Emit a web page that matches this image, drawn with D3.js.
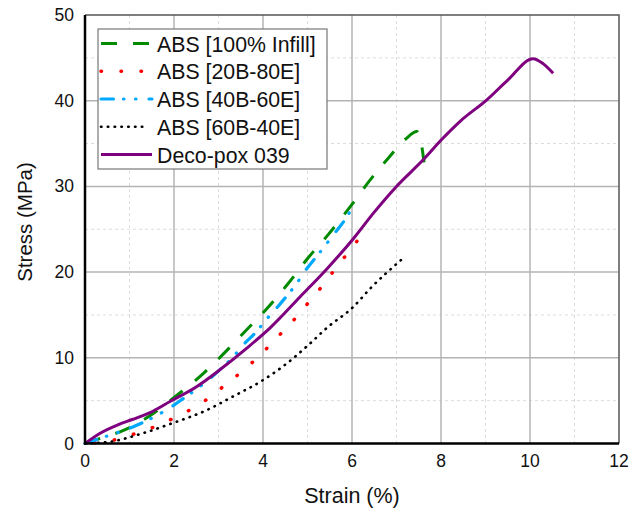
<!DOCTYPE html>
<html>
<head>
<meta charset="utf-8">
<script src="https://cdn.jsdelivr.net/npm/d3@7"></script>
<style>
  body { margin: 0; background: #fff; }
  svg { font-family: "Liberation Sans", Arial, sans-serif; }
</style>
</head>
<body>
<svg id="chart" width="643" height="509"></svg>
<script>
// stress-strain curves, [strain %, stress MPa]
const abs100 = [[0,0],[0.4,0.7],[0.85,1.5],[1.45,3.2],[2.06,5.6],[2.58,7.8],[3.1,10.4],[3.6,13.1],[4.08,15.7],[4.57,18.7],[5.02,21.7],[5.47,24.4],[6,27.9],[6.4,30.7],[6.8,33.2],[7.2,35.5],[7.46,36.4],[7.55,35.2],[7.62,32.8]];
const abs20 = [[0,0],[0.52,0.25],[0.97,0.9],[1.39,1.6],[1.76,2.4],[2.13,3.3],[2.52,4.4],[2.88,5.7],[3.21,7.1],[3.55,8.5],[3.87,10],[4.16,11.5],[4.45,13.1],[4.76,14.8],[5.03,16.5],[5.32,18.3],[5.57,20],[5.84,21.8],[6.11,23.6]];
const abs40 = [[0,0],[0.34,0.6],[0.8,1.4],[1.24,2.3],[1.62,3.3],[1.92,4.2],[2.25,5.4],[2.55,6.5],[3.07,8.8],[3.33,10.1],[3.52,11.3],[3.86,13.1],[4.08,14.5],[4.27,15.6],[4.5,17],[4.76,18.7],[4.94,20.1],[5.2,21.8],[5.62,24.6],[5.89,26.5],[5.97,27.2]];
const abs60 = [[0,0],[0.56,0.2],[1.3,1.2],[1.98,2.4],[2.74,3.9],[3.33,5.5],[4,7.4],[4.5,9.2],[5,11.4],[5.46,13.6],[6,15.8],[6.45,18.3],[7.1,21.4]];
const deco = [[0,0],[0.34,1.2],[0.75,2.2],[1.06,2.8],[1.46,3.6],[1.91,4.9],[2.47,6.5],[3.03,8.6],[3.63,11.1],[4.16,13.5],[4.83,17.1],[5.44,20.4],[6.03,23.9],[6.5,27],[7,30],[7.6,33.1],[8.02,35.5],[8.43,37.6],[9.03,40.1],[9.5,42.4],[10.07,44.9],[10.3,44.3],[10.52,43.2]];

const seriesNames = ["ABS [100% Infill]", "ABS [20B-80E]", "ABS [40B-60E]", "ABS [60B-40E]", "Deco-pox 039"];
const xTicks = [0, 2, 4, 6, 8, 10, 12];
const yTicks = [0, 10, 20, 30, 40, 50];
const xMinor = [1, 3, 5, 7, 9, 11];
const yMinor = [5, 15, 25, 35, 45];

const styles = [
  { color: "#008a00", dash: "16,16", cap: "butt", width: 3, period: 0 },
  { color: "#ff0000", dash: "0.5,19.5", cap: "round", width: 3.5, period: 20 },
  { color: "#00a8ff", dash: "12.5,10,0.5,11.5,0.5,13", cap: "round", width: 3.2, period: 0 },
  { color: "#000000", dash: "0.5,6.3", cap: "round", width: 2.6, period: 6.8 },
  { color: "#7f007f", dash: null, cap: "butt", width: 3, period: 0 }
];
const allData = [abs100, abs20, abs40, abs60, deco];

const svg = d3.select("#chart");
const mLeft = 85, mRight = 619, mTop = 15, mBottom = 443.5;

const x = d3.scaleLinear().domain([0, 12]).range([mLeft, mRight]);
const y = d3.scaleLinear().domain([0, 50]).range([mBottom, mTop]);

// minor grid
const grid = svg.append("g");
grid.selectAll(".mx").data(xMinor).enter().append("line")
  .attr("x1", d => x(d)).attr("x2", d => x(d)).attr("y1", mTop).attr("y2", mBottom)
  .attr("stroke", "#dcdcdc").attr("stroke-dasharray", "3,3");
grid.selectAll(".my").data(yMinor).enter().append("line")
  .attr("x1", mLeft).attr("x2", mRight).attr("y1", d => y(d)).attr("y2", d => y(d))
  .attr("stroke", "#dcdcdc").attr("stroke-dasharray", "3,3");
// major grid
grid.selectAll(".Mx").data(xTicks.slice(1, -1)).enter().append("line")
  .attr("x1", d => x(d)).attr("x2", d => x(d)).attr("y1", mTop).attr("y2", mBottom)
  .attr("stroke", "#b4b4b4").attr("stroke-width", 1.5);
grid.selectAll(".My").data(yTicks.slice(1, -1)).enter().append("line")
  .attr("x1", mLeft).attr("x2", mRight).attr("y1", d => y(d)).attr("y2", d => y(d))
  .attr("stroke", "#b4b4b4").attr("stroke-width", 1.5);

// frame top/right
svg.append("path")
  .attr("d", `M${mLeft},${mTop}H${mRight}V${mBottom}`)
  .attr("fill", "none").attr("stroke", "#555").attr("stroke-width", 1.5);

// curves
const line = d3.line().x(d => x(d[0])).y(d => y(d[1])).curve(d3.curveMonotoneX);
svg.append("g").selectAll("path").data(allData).enter().append("path")
  .attr("d", d => line(d))
  .attr("fill", "none")
  .attr("stroke", (d, i) => styles[i].color)
  .attr("stroke-width", (d, i) => styles[i].width)
  .attr("stroke-linecap", (d, i) => styles[i].cap)
  .attr("stroke-linejoin", "round")
  .attr("stroke-dasharray", (d, i) => styles[i].dash)
  .each(function(d, i) {
    // make dotted lines end on a dot
    const p = styles[i].period;
    if (p) {
      const len = this.getTotalLength();
      d3.select(this).attr("stroke-dashoffset", p - (len % p) + 0.5);
    }
  });

// axes lines
svg.append("path")
  .attr("d", `M${mLeft},${mTop}V${mBottom}H${mRight}`)
  .attr("fill", "none").attr("stroke", "#000").attr("stroke-width", 2.5);

// tick labels
svg.append("g").selectAll("text").data(xTicks).enter().append("text")
  .attr("x", d => x(d)).attr("y", 467)
  .attr("text-anchor", "middle").attr("font-size", 17.5).attr("fill", "#111")
  .text(d => d);
svg.append("g").selectAll("text").data(yTicks).enter().append("text")
  .attr("x", 74).attr("y", d => y(d) + 6)
  .attr("text-anchor", "end").attr("font-size", 17.5).attr("fill", "#111")
  .text(d => d);

// axis titles
svg.append("text").attr("x", (mLeft + mRight) / 2).attr("y", 503)
  .attr("text-anchor", "middle").attr("font-size", 21.5).attr("fill", "#111")
  .text("Strain (%)");
svg.append("text").attr("transform", "translate(32,222) rotate(-90)")
  .attr("text-anchor", "middle").attr("font-size", 20.5).attr("fill", "#111")
  .text("Stress (MPa)");

// legend
const lg = svg.append("g");
lg.append("rect").attr("x", 98).attr("y", 29).attr("width", 229).attr("height", 140)
  .attr("fill", "#fff").attr("stroke", "#777").attr("stroke-width", 1.2);
const rows = lg.selectAll(".row").data(seriesNames).enter().append("g")
  .attr("transform", (d, i) => `translate(0,${43.5 + i * 27.75})`);
rows.append("line").attr("x1", 101).attr("x2", (d, i) => i === 3 ? 148 : 152)
  .attr("y1", 0).attr("y2", 0)
  .attr("stroke", (d, i) => styles[i].color)
  .attr("stroke-width", (d, i) => styles[i].width)
  .attr("stroke-linecap", (d, i) => styles[i].cap)
  .attr("stroke-dasharray", (d, i) => styles[i].dash);
rows.append("text").attr("x", 157).attr("y", 8)
  .attr("font-size", 21.3).attr("fill", "#111")
  .text(d => d);
</script>
</body>
</html>
